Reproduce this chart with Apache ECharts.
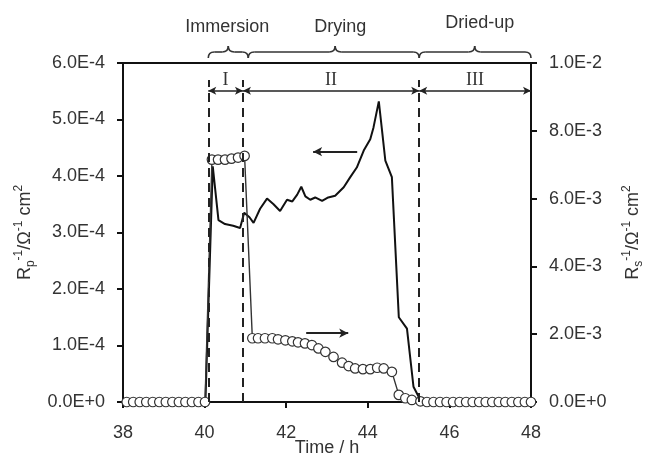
<!DOCTYPE html>
<html>
<head>
<meta charset="utf-8">
<script src="https://cdn.jsdelivr.net/npm/echarts@6/dist/echarts.min.js"></script>
<style>
html,body{margin:0;padding:0;background:#fff;}
#c{width:647px;height:474px;}
</style>
</head>
<body>
<div id="c"></div>
<script>
// ---- data ----
const rpTime = [38.0, 40.02, 40.2, 40.34, 40.5, 40.7, 40.87, 40.97, 41.1, 41.2, 41.36, 41.53, 41.69, 41.85, 42.02, 42.15, 42.27, 42.37, 42.47, 42.59, 42.71, 42.88, 43.03, 43.2, 43.41, 43.57, 43.73, 43.9, 44.06, 44.14, 44.27, 44.35, 44.43, 44.59, 44.76, 44.96, 45.12, 45.25, 45.33, 48.0];
const rpValue = [0, 0, 4.17e-4, 3.22e-4, 3.15e-4, 3.12e-4, 3.08e-4, 3.35e-4, 3.27e-4, 3.17e-4, 3.42e-4, 3.6e-4, 3.5e-4, 3.38e-4, 3.58e-4, 3.55e-4, 3.67e-4, 3.81e-4, 3.64e-4, 3.58e-4, 3.62e-4, 3.56e-4, 3.62e-4, 3.65e-4, 3.8e-4, 3.98e-4, 4.15e-4, 4.45e-4, 4.65e-4, 4.86e-4, 5.32e-4, 4.8e-4, 4.27e-4, 3.98e-4, 1.5e-4, 1.3e-4, 0.27e-4, 0.09e-4, 0, 0];

const rsTime = [38.09, 38.25, 38.41, 38.57, 38.73, 38.89, 39.05, 39.21, 39.37, 39.53, 39.69, 39.85, 40.01,
  40.18, 40.33, 40.5, 40.66, 40.82, 40.98,
  41.17, 41.31, 41.48, 41.66, 41.8, 41.98, 42.15, 42.29, 42.46, 42.63, 42.79, 42.96, 43.16, 43.37, 43.53, 43.69, 43.88, 44.06, 44.23, 44.39, 44.59, 44.76, 44.92, 45.08, 45.29,
  45.45, 45.61, 45.77, 45.93, 46.09, 46.25, 46.41, 46.57, 46.73, 46.89, 47.05, 47.21, 47.37, 47.53, 47.69, 47.85, 48.0];
const rsValue = [0, 0, 0, 0, 0, 0, 0, 0, 0, 0, 0, 0, 0,
  7.15e-3, 7.15e-3, 7.15e-3, 7.18e-3, 7.21e-3, 7.26e-3,
  1.88e-3, 1.88e-3, 1.88e-3, 1.88e-3, 1.85e-3, 1.82e-3, 1.79e-3, 1.76e-3, 1.73e-3, 1.68e-3, 1.58e-3, 1.48e-3, 1.33e-3, 1.16e-3, 1.06e-3, 0.99e-3, 0.97e-3, 0.97e-3, 1.01e-3, 0.99e-3, 0.89e-3, 0.21e-3, 0.11e-3, 0.06e-3, 0.02e-3,
  0, 0, 0, 0, 0, 0, 0, 0, 0, 0, 0, 0, 0, 0, 0, 0, 0];

const xTicks = {min: 38, max: 48, interval: 2};
const leftTicks = {min: 0, max: 6e-4, interval: 1e-4};
const rightTicks = {min: 0, max: 1e-2, interval: 2e-3};

// stage boundaries (h)
const stageBounds = [40.09, 40.94, 45.26, 48];
const stageNames = ['I', 'II', 'III'];
const phaseNames = ['Immersion', 'Drying', 'Dried-up'];
const braceBounds = [40.09, 41.07, 45.26, 48];
const braceTips = [40.58, 43.2, 46.62];

const FONT = 'Liberation Sans';
const TXT = '#333';
const AX = '#111';

const chart = echarts.init(document.getElementById('c'), null, {renderer: 'canvas'});

function fmt(v) { return Number(v).toExponential(1).toUpperCase(); }

const nameRich = {
  a: {fontSize: 18, fontFamily: FONT, color: TXT, lineHeight: 24, verticalAlign: 'middle'},
  sub: {fontSize: 12, fontFamily: FONT, color: TXT, lineHeight: 12, verticalAlign: 'bottom'},
  sup: {fontSize: 12, fontFamily: FONT, color: TXT, lineHeight: 12, verticalAlign: 'top'}
};

function yAxisBase(pos, ticks, nameText, gap) {
  return {
    type: 'value', position: pos, min: ticks.min, max: ticks.max, interval: ticks.interval,
    axisLine: {show: true, lineStyle: {color: AX, width: 2}},
    axisTick: {show: true, inside: false, length: 6, lineStyle: {color: AX, width: 2}},
    axisLabel: {formatter: fmt, margin: 18, fontSize: 18, color: TXT, fontFamily: FONT},
    splitLine: {show: false},
    name: nameText, nameLocation: 'middle', nameRotate: 90, nameGap: gap, nameMoveOverlap: false,
    nameTextStyle: {rich: nameRich, fontSize: 18, color: TXT, fontFamily: FONT}
  };
}

// markLines for stage dashed lines, stage arrows and the axis pointer arrow
const rpMarks = [];
[stageBounds[0], stageBounds[1], stageBounds[2]].forEach(function (t) {
  rpMarks.push([
    {coord: [t, 0], symbol: 'none', lineStyle: {type: [9, 6], width: 2, color: '#222'}, label: {show: false}},
    {coord: [t, 5.7e-4], symbol: 'none'}
  ]);
});
for (let i = 0; i < 3; i++) {
  rpMarks.push([
    {coord: [stageBounds[i], 5.51e-4], symbol: 'arrow', symbolSize: [6, 8],
     lineStyle: {type: 'solid', width: 1.6, color: '#222'},
     label: {show: true, formatter: stageNames[i], position: 'insideMiddleTop', distance: 1,
             fontFamily: 'Liberation Serif', fontSize: 18, color: TXT}},
    {coord: [stageBounds[i + 1], 5.51e-4], symbol: 'arrow', symbolSize: [6, 8]}
  ]);
}
rpMarks.push([
  {coord: [43.74, 4.43e-4], symbol: 'none', lineStyle: {type: 'solid', width: 2, color: '#222'}, label: {show: false}},
  {coord: [42.66, 4.43e-4], symbol: 'arrow', symbolSize: [7, 9]}
]);

const option = {
  animation: false,
  backgroundColor: '#fff',
  textStyle: {fontFamily: FONT},
  grid: {left: 123, right: 116, top: 63, bottom: 72, show: true, borderColor: AX, borderWidth: 2,
         backgroundColor: 'transparent', containLabel: false, outerBoundsMode: 'none'},
  xAxis: {
    type: 'value', min: xTicks.min, max: xTicks.max, interval: xTicks.interval,
    axisLine: {show: true, lineStyle: {color: AX, width: 2}},
    axisTick: {show: true, inside: false, length: 6, lineStyle: {color: AX, width: 2}},
    axisLabel: {margin: 22, fontSize: 18, color: TXT, fontFamily: FONT},
    splitLine: {show: false},
    name: 'Time / h', nameLocation: 'middle', nameGap: 37, nameMoveOverlap: false,
    nameTextStyle: {fontSize: 18, color: TXT, fontFamily: FONT}
  },
  yAxis: [
    yAxisBase('left', leftTicks, '{a|R}{sub|p}{sup|-1}{a|/Ω}{sup|-1}{a| cm}{sup|2}', 86),
    yAxisBase('right', rightTicks, '{a|R}{sub|s}{sup|-1}{a|/Ω}{sup|-1}{a| cm}{sup|2}', 90)
  ],
  series: [
    {
      type: 'line', yAxisIndex: 0, symbol: 'none', z: 3,
      data: rpTime.map(function (t, i) { return [t, rpValue[i]]; }),
      lineStyle: {color: '#111', width: 2},
      markLine: {silent: true, symbol: 'none', animation: false, label: {show: false}, data: rpMarks}
    },
    {
      type: 'line', yAxisIndex: 1, symbol: 'circle', symbolSize: 9.5, showAllSymbol: true, z: 4,
      data: rsTime.map(function (t, i) { return [t, rsValue[i]]; }),
      lineStyle: {color: '#333', width: 1.4},
      itemStyle: {color: '#fff', borderColor: '#333', borderWidth: 1.2},
      markLine: {silent: true, symbol: 'none', animation: false, label: {show: false},
        data: [[
          {coord: [42.49, 2.03e-3], symbol: 'none', lineStyle: {type: 'solid', width: 2, color: '#222'}},
          {coord: [43.52, 2.03e-3], symbol: 'arrow', symbolSize: [7, 9]}
        ]]}
    }
  ]
};
chart.setOption(option);

// ---- braces and phase labels above the plot ----
function xp(t) { return chart.convertToPixel({xAxisIndex: 0, yAxisIndex: 0}, [t, 0])[0]; }
const topPx = chart.convertToPixel({xAxisIndex: 0, yAxisIndex: 0}, [38, leftTicks.max])[1];
const yLine = topPx - 11, yEnd = topPx - 5, yTip = topPx - 17;
const graphics = [];
const bStyle = {stroke: '#333', fill: null, lineWidth: 1.6};
function curve(x1, y1, cx, cy, x2, y2) {
  graphics.push({type: 'bezierCurve', silent: true, shape: {x1: x1, y1: y1, x2: x2, y2: y2, cpx1: cx, cpy1: cy}, style: bStyle});
}
function seg(x1, y1, x2, y2) {
  graphics.push({type: 'line', silent: true, shape: {x1: x1, y1: y1, x2: x2, y2: y2}, style: bStyle});
}
for (let i = 0; i < 3; i++) {
  const a = xp(braceBounds[i]), b = xp(braceBounds[i + 1]), m = xp(braceTips[i]);
  const r = 6;
  curve(a, yEnd, a, yLine, a + r, yLine);
  seg(a + r, yLine, m - r, yLine);
  curve(m - r, yLine, m, yLine, m, yTip);
  curve(m, yTip, m, yLine, m + r, yLine);
  seg(m + r, yLine, b - r, yLine);
  curve(b - r, yLine, b, yLine, b, yEnd);
  graphics.push({
    type: 'text', x: m + (i === 0 ? -1 : 5), y: (i === 2 ? topPx - 40 : topPx - 36), silent: true,
    style: {text: phaseNames[i], font: '18px "Liberation Sans"', fill: TXT,
            textAlign: 'center', align: 'center', textVerticalAlign: 'middle', verticalAlign: 'middle'}
  });
}
chart.setOption({graphic: graphics});
</script>
</body>
</html>
